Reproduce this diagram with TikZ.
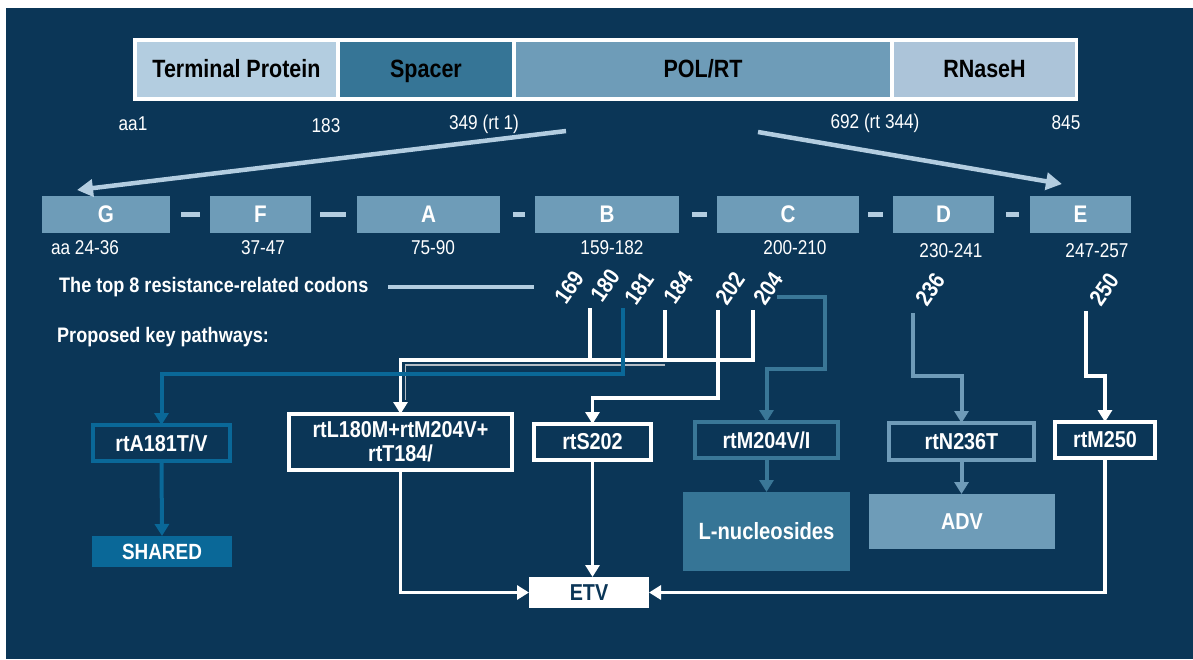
\documentclass[tikz,border=0pt]{standalone}
\usepackage{fontspec}
\setmainfont{Liberation Sans}[FakeStretch=0.86]
\usetikzlibrary{arrows.meta,calc}
\definecolor{bg}{HTML}{0B3657}
\definecolor{light}{HTML}{B3CDE0}
\definecolor{spacer}{HTML}{367596}
\definecolor{polrt}{HTML}{6E9CB8}
\definecolor{rnaseh}{HTML}{ACC4D9}
\definecolor{blueA}{HTML}{0A6898}
\definecolor{blueB}{HTML}{3A7797}
\definecolor{blueC}{HTML}{6F9BB8}
\definecolor{graythin}{HTML}{B4BCC4}
\newcommand{\myfs}[1]{\fontsize{#1}{#1}\selectfont}
\tikzset{
  cell/.style={inner sep=0pt, outer sep=0pt, font=\myfs{25}\bfseries, text=black, text height=18pt, text depth=2pt},
  dom/.style={fill=polrt, inner sep=0pt, outer sep=0pt, minimum height=37pt, font=\myfs{24}\bfseries, text=white},
  num/.style={inner sep=0pt, font=\myfs{20}, text=white},
  headtxt/.style={inner sep=0pt, anchor=west, font=\myfs{21}\bfseries, text=white},
  codon/.style={inner sep=0pt, font=\myfs{23}\bfseries, text=white, rotate=55},
  mbox/.style={inner sep=0pt, outer sep=0pt, line width=4pt, font=\myfs{23}\bfseries, text=white, align=center},
  fbox/.style={inner sep=0pt, outer sep=0pt, font=\myfs{23}\bfseries, text=white},
  tip/.style={-{Triangle[width=14pt,length=12pt]}},
  wl/.style={draw=white, line width=3.5pt},
  bl/.style={draw=blueA, line width=4pt},
  bgl/.style={draw=blueB, line width=4pt},
  gl/.style={draw=blueC, line width=4pt},
  dashl/.style={draw=light, line width=4.5pt},
  bigarrow/.style={draw=light, line width=4.5pt, -{Triangle[width=17pt,length=16pt]}},
}
\begin{document}
\begin{tikzpicture}[x=1pt,y=-1pt]
\useasboundingbox (0,0) rectangle (1193,659);
\fill[white] (0,0) rectangle (1193,659);
\fill[bg] (6,8) rectangle (1193,659);

% top bar
\node[fill=white, inner sep=0pt, outer sep=0pt, minimum width=945pt, minimum height=63pt] (frame) at (605.5,69.5) {};
\node[cell, fill=light, minimum width=199pt, minimum height=55pt] (tp) at (236.5,69.5) {Terminal Protein};
\node[cell, fill=spacer, minimum width=172pt, minimum height=55pt] (sp) at (426,69.5) {Spacer};
\node[cell, fill=polrt, minimum width=374pt, minimum height=55pt] (pol) at (703,69.5) {POL/RT};
\node[cell, fill=rnaseh, minimum width=181pt, minimum height=55pt] (rh) at (984.5,69.5) {RNaseH};

\node[num] (n1) at (133,124) {aa1};
\node[num] (n183) at (326,126) {183};
\node[num] (n349) at (484,124) {349 (rt 1)};
\node[num] (n692) at (875,123) {692 (rt 344)};
\node[num] (n845) at (1066,123) {845};

% domains
\node[dom, minimum width=128pt] (G) at (106,214.5) {G};
\node[dom, minimum width=101pt] (F) at (260.5,214.5) {F};
\node[dom, minimum width=143pt] (A) at (428.5,214.5) {A};
\node[dom, minimum width=144pt] (B) at (607,214.5) {B};
\node[dom, minimum width=142pt] (C) at (788,214.5) {C};
\node[dom, minimum width=101pt] (D) at (943.5,214.5) {D};
\node[dom, minimum width=101pt] (E) at (1080.5,214.5) {E};

\draw[dashl] ([xshift=11pt]G.east) -- ([xshift=-10pt]F.west);
\draw[dashl] ([xshift=9pt]F.east) -- ([xshift=-11pt]A.west);
\draw[dashl] ([xshift=13pt]A.east) -- ([xshift=-10pt]B.west);
\draw[dashl] ([xshift=13pt]B.east) -- ([xshift=-10pt]C.west);
\draw[dashl] ([xshift=9pt]C.east) -- ([xshift=-10pt]D.west);
\draw[dashl] ([xshift=12pt]D.east) -- ([xshift=-11pt]E.west);

\coordinate (s1) at (566,131);
\coordinate (s2) at (758,132);
\draw[bigarrow] (s1) -- ($(G.north west)+(35,-6)$);
\draw[bigarrow] (s2) -- ($(E.north west)+(32,-12)$);

\node[num] (rG) at (85,248) {aa 24-36};
\node[num] (rF) at (263,248) {37-47};
\node[num] (rA) at (433,248) {75-90};
\node[num] (rB) at (612,248) {159-182};
\node[num] (rC) at (795,248) {200-210};
\node[num] (rD) at (951,251) {230-241};
\node[num] (rE) at (1097,251) {247-257};

\node[headtxt] (top8) at (59,287) {The top 8 resistance-related codons};
\node[headtxt] (prop) at (57,337) {Proposed key pathways:};
\coordinate (cl) at (388,287);
\draw[dashl] (cl) -- ++(146,0);

% codons
\node[codon] (k169) at (569,287) {169};
\node[codon] (k180) at (605,285) {180};
\node[codon] (k181) at (639,288) {181};
\node[codon] (k184) at (678,287) {184};
\node[codon] (k202) at (730,288) {202};
\node[codon] (k204) at (768,288) {204};
\node[codon] (k236) at (930,289) {236};
\node[codon] (k250) at (1104,289) {250};

% mutation boxes
\node[mbox, draw=blueA, minimum width=137pt, minimum height=36pt] (rtA) at (161.5,443) {rtA181T/V};
\node[mbox, draw=white, minimum width=223pt, minimum height=56pt] (rtL) at (400.5,442) {rtL180M+rtM204V+\\[1pt]rtT184/};
\node[mbox, draw=white, minimum width=117pt, minimum height=36pt] (rtS) at (592.5,442) {rtS202};
\node[mbox, draw=blueB, minimum width=143pt, minimum height=36pt] (rtM204) at (766.5,440) {rtM204V/I};
\node[mbox, draw=blueC, minimum width=145pt, minimum height=37pt] (rtN) at (961.5,441.5) {rtN236T};
\node[mbox, draw=white, minimum width=100pt, minimum height=36pt] (rtM250) at (1105,440) {rtM250};

% drug boxes
\node[fbox, fill=blueA, minimum width=140pt, minimum height=31pt, font=\myfs{22}\bfseries] (SHARED) at (162,551.5) {SHARED};
\node[fbox, fill=spacer, minimum width=167pt, minimum height=79pt, font=\myfs{23.5}\bfseries] (Lnuc) at (766.5,531.5) {L-nucleosides};
\node[fbox, fill=polrt, minimum width=186pt, minimum height=55pt] (ADV) at (962,521.5) {ADV};
\node[fbox, fill=white, text=bg, minimum width=120pt, minimum height=31pt] (ETV) at (589,592.5) {ETV};

% codon pathways
\coordinate (p180) at (590,308);
\coordinate (p181) at (623,308);
\coordinate (p184) at (665,310);
\coordinate (p202) at (718,310);
\coordinate (p204) at (753,310);
\coordinate (p204b) at (777,297);
\coordinate (p236) at (913,313);
\coordinate (p250) at (1086,311);

\draw[graythin, line width=1.5pt] ($(p184)+(0,55)$) -| ($(rtL.north)+(5,-14)$);
\draw[wl] (p180) -- ++(0,52);
\draw[wl] (p184) -- ++(0,52);
\draw[wl,tip] (p204) -- ++(0,50) -| (rtL.north);
\draw[bl,tip] (p181) -- ++(0,66) -| (rtA.north);
\draw[wl,tip] (p202) -- ++(0,88) -| (rtS.north);
\draw[bgl,tip] (p204b) -- ++(48,0) -- ++(0,72) -| (rtM204.north);
\draw[gl,tip] (p236) -- ++(0,63) -| (rtN.north);
\draw[wl,tip] (p250) -- ++(0,65) -| (rtM250.north);

% to drugs
\draw[bl,tip] (rtA.south) -- (SHARED.north);
\draw[bgl,tip] (rtM204.south) -- (Lnuc.north);
\draw[gl,tip] (rtN.south) -- (rtN.south |- ADV.north);
\draw[wl,tip] (rtL.south) |- (ETV.west);
\draw[wl,tip] (rtS.south) -- (rtS.south |- ETV.north);
\draw[wl,tip] (rtM250.south) |- (ETV.east);
\end{tikzpicture}
\end{document}
